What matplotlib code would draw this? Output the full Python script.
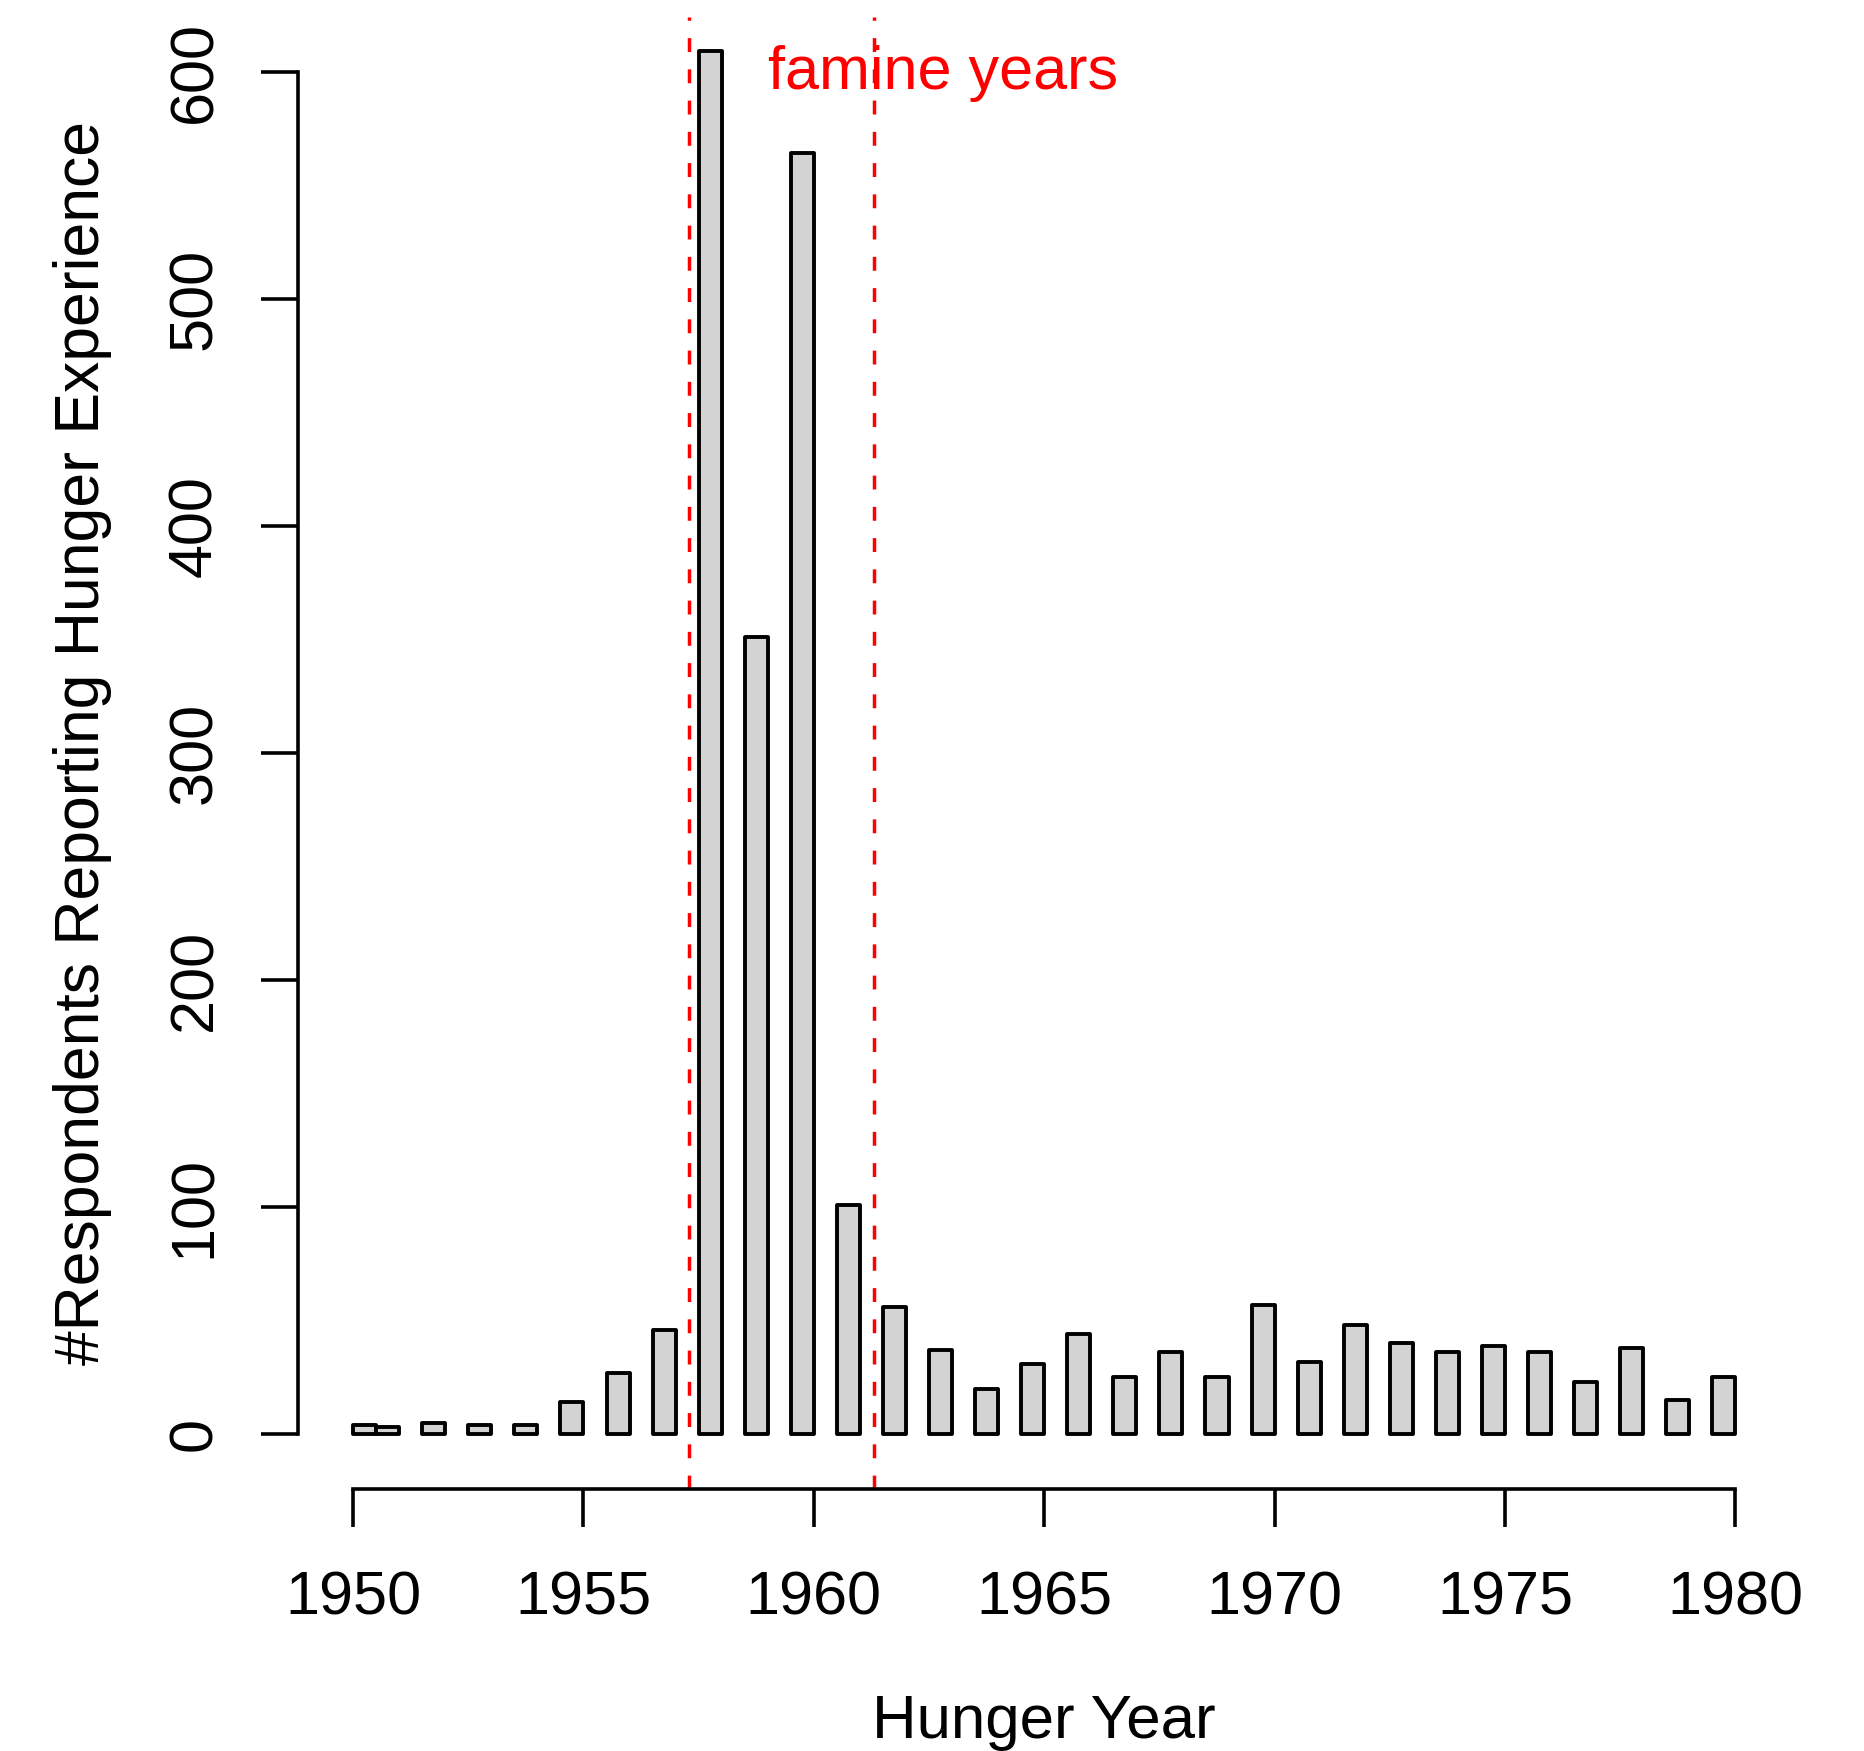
import numpy as np
import matplotlib
matplotlib.use("Agg")
import matplotlib.pyplot as plt

plt.rcParams['font.family'] = ['Liberation Sans', 'DejaVu Sans']

# number of respondents per hunger year
years = np.arange(1950, 1981)
counts = [4, 3, 5, 4, 4, 14, 27, 46, 609, 351, 564, 101, 56, 37, 20, 31,
          44, 25, 36, 25, 57, 32, 48, 40, 36, 39, 36, 23, 38, 15, 25]
famine_lines = [1957.3, 1961.3]
x_ticks = [1950, 1955, 1960, 1965, 1970, 1975, 1980]
y_ticks = [0, 100, 200, 300, 400, 500, 600]

fig = plt.figure(figsize=(18.65, 17.51), dpi=100)
ax = fig.add_axes([0.1597, 0.1498, 0.8004, 0.8404])

# histogram bins of half a year, right-closed: year Y falls in (Y-0.5, Y]
lefts = np.maximum(years - 0.5, 1950)
ax.bar(lefts, counts, width=0.5, align='edge', color='#d3d3d3',
       edgecolor='black', linewidth=2.8, joinstyle='round')

for xv in famine_lines:
    ax.axvline(xv, color='red', linewidth=2.5, linestyle=(0, (4, 5)))

ax.text(1962.8, 592.4, 'famine years', color='red', fontsize=44,
        ha='center', va='baseline')

ax.set_xlim(1948.8, 1981.2)
ax.set_ylim(-24, 624)

for s in ['top', 'right']:
    ax.spines[s].set_visible(False)
ax.spines['left'].set_bounds(0, 600)
ax.spines['bottom'].set_bounds(1950, 1980)
ax.spines['left'].set_linewidth(2.6)
ax.spines['bottom'].set_linewidth(2.6)

ax.set_xticks(x_ticks)
ax.set_yticks(y_ticks)
ax.tick_params(axis='both', length=27, width=2.6, labelsize=44, direction='out')
ax.tick_params(axis='x', pad=32)
ax.tick_params(axis='y', pad=26, labelrotation=90)
for lbl in ax.get_yticklabels():
    lbl.set_va('center')

ax.set_xlabel('Hunger Year', fontsize=44.5, va='baseline')
ax.xaxis.set_label_coords(0.5, -0.1697)
ax.set_ylabel('#Respondents Reporting Hunger Experience', fontsize=45, va='baseline')
ax.yaxis.set_label_coords(-0.1333, 0.507)

fig.savefig('out.png', dpi=100)
